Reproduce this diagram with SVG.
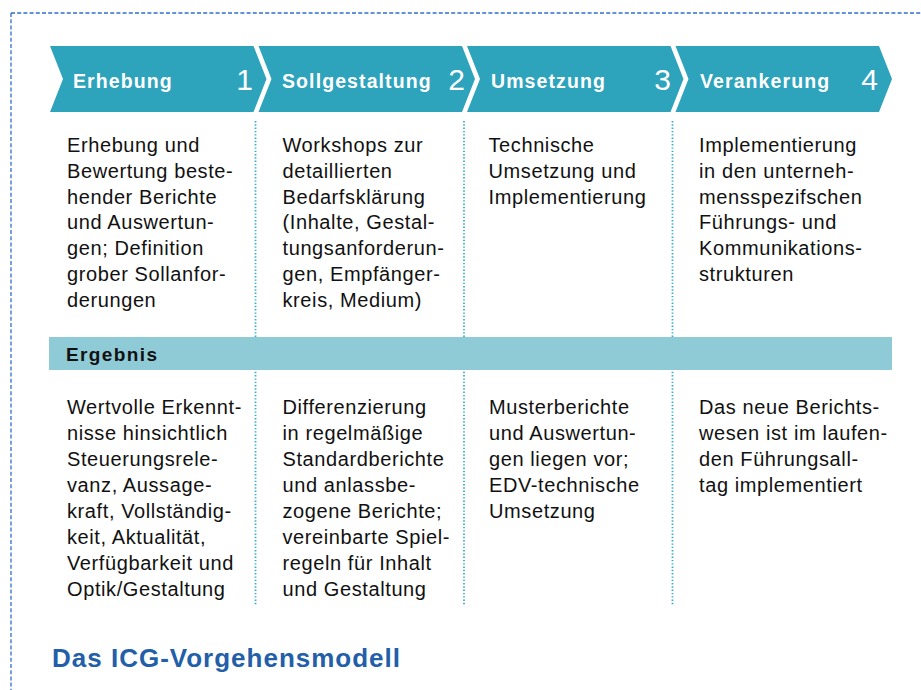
<svg xmlns="http://www.w3.org/2000/svg" width="921" height="690" viewBox="0 0 921 690">
<style>
.chev{fill:#2EA3BC}
.hd{font-family:"Liberation Sans",Arial,sans-serif;font-weight:bold;font-size:19.5px;fill:#fff;letter-spacing:1.1px}
.num{font-family:"Liberation Sans",Arial,sans-serif;font-size:30px;fill:#fff;text-anchor:end}
.tx{font-family:"Liberation Sans",Arial,sans-serif;font-size:20px;fill:#111;letter-spacing:0.6px}
.sep{stroke:#3AAFCB;stroke-width:1.8;stroke-dasharray:1.4 1.9;fill:none}
.bar{fill:#8FCBD7}
.lbl{font-family:"Liberation Sans",Arial,sans-serif;font-weight:bold;font-size:19px;fill:#111;letter-spacing:1.4px}
.title{font-family:"Liberation Sans",Arial,sans-serif;font-weight:bold;font-size:26px;fill:#235EA9;letter-spacing:1px}
</style>
<rect x="11" y="13" width="1000" height="800" fill="none" stroke="#2F6FCF" stroke-width="1.3" stroke-dasharray="4 2.2"/>
<g id="connectors">
<line class="sep" x1="255.5" y1="121" x2="255.5" y2="606"/>
<line class="sep" x1="464" y1="121" x2="464" y2="606"/>
<line class="sep" x1="672.5" y1="121" x2="672.5" y2="606"/>
</g>
<g id="step1">
<polygon class="chev" points="50,46 253.5,46 266.5,79 253.5,112 50,112 63,79"/>
<text class="hd" x="73" y="87.5">Erhebung</text>
<text class="num" x="253" y="90">1</text>
</g>
<g id="step2">
<polygon class="chev" points="258.5,46 462,46 475,79 462,112 258.5,112 271.5,79"/>
<text class="hd" x="282" y="87.5">Sollgestaltung</text>
<text class="num" x="465" y="90">2</text>
</g>
<g id="step3">
<polygon class="chev" points="467,46 670.5,46 683.5,79 670.5,112 467,112 480,79"/>
<text class="hd" x="491" y="87.5">Umsetzung</text>
<text class="num" x="671" y="90">3</text>
</g>
<g id="step4">
<polygon class="chev" points="675.5,46 879,46 892,79 879,112 675.5,112 688.5,79"/>
<text class="hd" x="700" y="87.5">Verankerung</text>
<text class="num" x="878" y="90">4</text>
</g>
<g id="desc1">
<text class="tx" x="67" y="152">
<tspan x="67" dy="0">Erhebung und</tspan>
<tspan x="67" dy="25.8">Bewertung beste-</tspan>
<tspan x="67" dy="25.8">hender Berichte</tspan>
<tspan x="67" dy="25.8">und Auswertun-</tspan>
<tspan x="67" dy="25.8">gen; Definition</tspan>
<tspan x="67" dy="25.8">grober Sollanfor-</tspan>
<tspan x="67" dy="25.8">derungen</tspan>
</text>
</g>
<g id="desc2">
<text class="tx" x="282.5" y="152">
<tspan x="282.5" dy="0">Workshops zur</tspan>
<tspan x="282.5" dy="25.8">detaillierten</tspan>
<tspan x="282.5" dy="25.8">Bedarfsklärung</tspan>
<tspan x="282.5" dy="25.8">(Inhalte, Gestal-</tspan>
<tspan x="282.5" dy="25.8">tungsanforderun-</tspan>
<tspan x="282.5" dy="25.8">gen, Empfänger-</tspan>
<tspan x="282.5" dy="25.8">kreis, Medium)</tspan>
</text>
</g>
<g id="desc3">
<text class="tx" x="488.5" y="152">
<tspan x="488.5" dy="0">Technische</tspan>
<tspan x="488.5" dy="25.8">Umsetzung und</tspan>
<tspan x="488.5" dy="25.8">Implementierung</tspan>
</text>
</g>
<g id="desc4">
<text class="tx" x="699" y="152">
<tspan x="699" dy="0">Implementierung</tspan>
<tspan x="699" dy="25.8">in den unterneh-</tspan>
<tspan x="699" dy="25.8">mensspezifschen</tspan>
<tspan x="699" dy="25.8">Führungs- und</tspan>
<tspan x="699" dy="25.8">Kommunikations-</tspan>
<tspan x="699" dy="25.8">strukturen</tspan>
</text>
</g>
<g id="ergebnis">
<rect class="bar" x="49" y="337" width="843" height="33"/>
<text class="lbl" x="66" y="361">Ergebnis</text>
</g>
<g id="result1">
<text class="tx" x="67" y="414">
<tspan x="67" dy="0">Wertvolle Erkennt-</tspan>
<tspan x="67" dy="26">nisse hinsichtlich</tspan>
<tspan x="67" dy="26">Steuerungsrele-</tspan>
<tspan x="67" dy="26">vanz, Aussage-</tspan>
<tspan x="67" dy="26">kraft, Vollständig-</tspan>
<tspan x="67" dy="26">keit, Aktualität,</tspan>
<tspan x="67" dy="26">Verfügbarkeit und</tspan>
<tspan x="67" dy="26">Optik/Gestaltung</tspan>
</text>
</g>
<g id="result2">
<text class="tx" x="282.5" y="414">
<tspan x="282.5" dy="0">Differenzierung</tspan>
<tspan x="282.5" dy="26">in regelmäßige</tspan>
<tspan x="282.5" dy="26">Standardberichte</tspan>
<tspan x="282.5" dy="26">und anlassbe-</tspan>
<tspan x="282.5" dy="26">zogene Berichte;</tspan>
<tspan x="282.5" dy="26">vereinbarte Spiel-</tspan>
<tspan x="282.5" dy="26">regeln für Inhalt</tspan>
<tspan x="282.5" dy="26">und Gestaltung</tspan>
</text>
</g>
<g id="result3">
<text class="tx" x="489" y="414">
<tspan x="489" dy="0">Musterberichte</tspan>
<tspan x="489" dy="26">und Auswertun-</tspan>
<tspan x="489" dy="26">gen liegen vor;</tspan>
<tspan x="489" dy="26">EDV-technische</tspan>
<tspan x="489" dy="26">Umsetzung</tspan>
</text>
</g>
<g id="result4">
<text class="tx" x="699" y="414">
<tspan x="699" dy="0">Das neue Berichts-</tspan>
<tspan x="699" dy="26">wesen ist im laufen-</tspan>
<tspan x="699" dy="26">den Führungsall-</tspan>
<tspan x="699" dy="26">tag implementiert</tspan>
</text>
</g>
<g id="title">
<text class="title" x="52" y="667">Das ICG-Vorgehensmodell</text>
</g>
</svg>
